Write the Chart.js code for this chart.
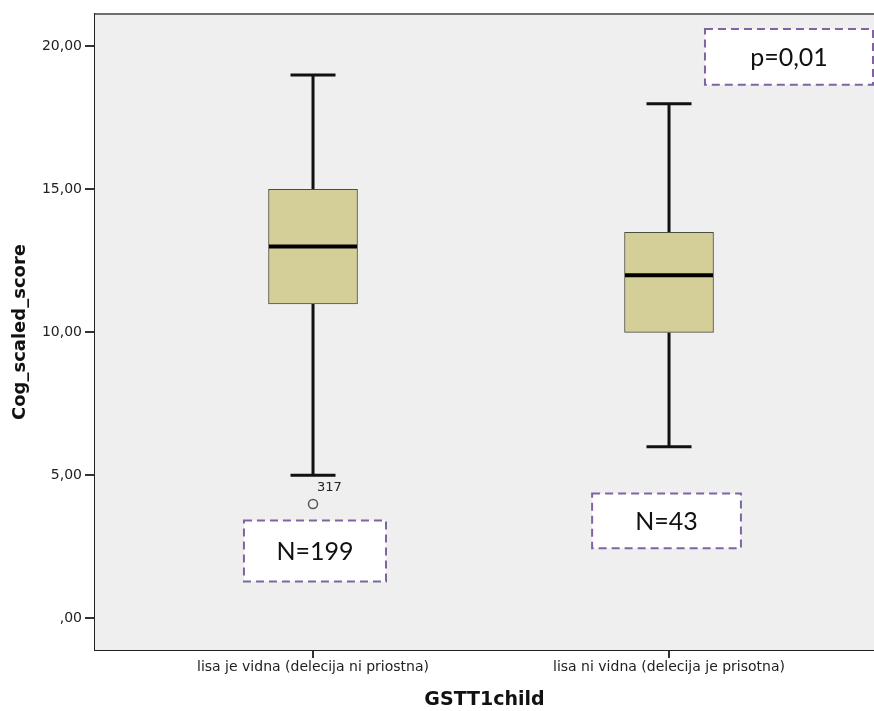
<!DOCTYPE html>
<html>
<head>
<meta charset="utf-8">
<script src="https://cdn.jsdelivr.net/npm/chart.js@4/dist/chart.umd.min.js"></script>
<style>
  html, body { margin: 0; padding: 0; background: #ffffff; }
  #wrap { width: 874px; height: 711px; }
</style>
</head>
<body>
<div id="wrap"><canvas id="c" width="874" height="711"></canvas></div>
<script>
// Groups and their box-plot summaries
const categories = ['lisa je vidna (delecija ni priostna)', 'lisa ni vidna (delecija je prisotna)'];
const whiskerLow = [5, 6];
const q1 = [11, 10];
const median = [13, 12];
const q3 = [15, 13.5];
const whiskerHigh = [19, 18];

// Outlying cases
const outlierGroup = [0];
const outlierValues = [4];
const outlierIds = ['317'];

// Sample sizes and test result
const groupN = [199, 43];
const pValue = '0,01';

// Value axis ticks
const yTicks = [0, 5, 10, 15, 20];

const fmtTick = v => v === 0 ? ',00' : v.toFixed(2).replace('.', ',');

// Plot background and frame
const frame = {
  id: 'frame',
  beforeDatasetsDraw(chart) {
    const { ctx, chartArea: a } = chart;
    ctx.save();
    ctx.fillStyle = '#efefef';
    ctx.fillRect(a.left, a.top, a.right - a.left, a.bottom - a.top);
    ctx.strokeStyle = '#6e6e6e';
    ctx.lineWidth = 2;
    ctx.beginPath();
    ctx.moveTo(a.left, a.top);
    ctx.lineTo(a.right, a.top);
    ctx.stroke();
    ctx.restore();
  }
};

// Whiskers, caps and medians drawn on the chart scales
const whiskers = {
  id: 'whiskers',
  beforeDatasetsDraw(chart) {
    const { ctx, scales: { x, y } } = chart;
    ctx.save();
    ctx.strokeStyle = '#111';
    ctx.lineWidth = 3;
    ctx.lineCap = 'butt';
    categories.forEach((c, i) => {
      const cx = x.getPixelForValue(i + 1);
      const capHalf = 22.5;
      ctx.beginPath();
      ctx.moveTo(cx, y.getPixelForValue(whiskerLow[i]));
      ctx.lineTo(cx, y.getPixelForValue(q1[i]));
      ctx.moveTo(cx, y.getPixelForValue(q3[i]));
      ctx.lineTo(cx, y.getPixelForValue(whiskerHigh[i]));
      ctx.moveTo(cx - capHalf, y.getPixelForValue(whiskerLow[i]));
      ctx.lineTo(cx + capHalf, y.getPixelForValue(whiskerLow[i]));
      ctx.moveTo(cx - capHalf, y.getPixelForValue(whiskerHigh[i]));
      ctx.lineTo(cx + capHalf, y.getPixelForValue(whiskerHigh[i]));
      ctx.stroke();
    });
    ctx.restore();
  },
  afterDatasetsDraw(chart) {
    const { ctx, scales: { x, y } } = chart;
    const boxHalf = 44;
    ctx.save();
    ctx.strokeStyle = '#000';
    ctx.lineWidth = 4;
    categories.forEach((c, i) => {
      const cx = x.getPixelForValue(i + 1);
      const my = y.getPixelForValue(median[i]);
      ctx.beginPath();
      ctx.moveTo(cx - boxHalf, my);
      ctx.lineTo(cx + boxHalf, my);
      ctx.stroke();
    });
    // case labels next to outliers
    ctx.fillStyle = '#222';
    ctx.font = '13px "DejaVu Sans", sans-serif';
    ctx.textAlign = 'left';
    ctx.textBaseline = 'middle';
    outlierValues.forEach((v, k) => {
      const px = x.getPixelForValue(outlierGroup[k] + 1);
      const py = y.getPixelForValue(v);
      ctx.fillText(outlierIds[k], px + 4, py - 16);
    });
    ctx.restore();
  }
};

// Dashed text boxes placed in data space
const notes = [
  { text: 'N=' + groupN[0], x0: 0.806, x1: 1.205, y0: 3.42, y1: 1.29 },
  { text: 'N=' + groupN[1], x0: 1.784, x1: 2.202, y0: 4.37, y1: 2.45 },
  { text: 'p=' + pValue, x0: 2.101, x1: 2.573, y0: 20.61, y1: 18.66 }
];
const noteBoxes = {
  id: 'noteBoxes',
  afterDatasetsDraw(chart) {
    const { ctx, scales: { x, y } } = chart;
    ctx.save();
    notes.forEach(n => {
      const l = x.getPixelForValue(n.x0), r = x.getPixelForValue(n.x1);
      const t = y.getPixelForValue(n.y0), b = y.getPixelForValue(n.y1);
      ctx.fillStyle = '#ffffff';
      ctx.fillRect(l, t, r - l, b - t);
      ctx.setLineDash([8, 5]);
      ctx.strokeStyle = '#8064a2';
      ctx.lineWidth = 2;
      ctx.strokeRect(l, t, r - l, b - t);
      ctx.setLineDash([]);
      ctx.fillStyle = '#111';
      ctx.font = '25px Lato, sans-serif';
      ctx.textAlign = 'center';
      ctx.textBaseline = 'middle';
      ctx.fillText(n.text, (l + r) / 2, (t + b) / 2 + 1);
    });
    ctx.restore();
  }
};

new Chart(document.getElementById('c'), {
  type: 'bar',
  data: {
    datasets: [
      {
        type: 'bar',
        data: categories.map((c, i) => ({ x: i + 1, y: [q1[i], q3[i]] })),
        backgroundColor: '#d4cf99',
        borderColor: '#4d4d40',
        borderWidth: 1,
        borderSkipped: false,
        barThickness: 89,
        order: 2
      },
      {
        type: 'scatter',
        data: outlierValues.map((v, k) => ({ x: outlierGroup[k] + 1, y: v })),
        pointStyle: 'circle',
        radius: 4.5,
        borderColor: '#555',
        backgroundColor: 'rgba(0,0,0,0)',
        borderWidth: 1.5,
        order: 1
      }
    ]
  },
  options: {
    responsive: false,
    animation: false,
    devicePixelRatio: 1,
    layout: { autoPadding: false, padding: { top: 14, right: 0, left: 0, bottom: 0 } },
    plugins: { legend: { display: false }, tooltip: { enabled: false } },
    scales: {
      x: {
        type: 'linear',
        offset: false,
        min: 0.3876,
        max: 2.5758,
        afterBuildTicks: s => { s.ticks = categories.map((c, i) => ({ value: i + 1 })); },
        afterFit: s => { s.height = 61; s.paddingRight = 0; s.paddingLeft = 0; },
        ticks: {
          callback: v => categories[v - 1],
          color: '#222',
          font: { family: '"DejaVu Sans", sans-serif', size: 14 },
          padding: 1,
          maxRotation: 0,
          autoSkip: false
        },
        grid: { display: true, offset: false, drawOnChartArea: false, tickLength: 8, color: '#333', lineWidth: 2 },
        border: { display: true, color: '#222', width: 2 },
        title: {
          display: true,
          text: 'GSTT1child',
          color: '#111',
          font: { family: '"DejaVu Sans", sans-serif', size: 19, weight: 'bold' },
          padding: { top: 0, bottom: 0 }
        }
      },
      y: {
        type: 'linear',
        min: -1.107,
        max: 21.135,
        afterBuildTicks: s => { s.ticks = yTicks.map(v => ({ value: v })); },
        afterFit: s => { s.width = 95; },
        ticks: {
          callback: v => fmtTick(v),
          color: '#222',
          font: { family: '"DejaVu Sans", sans-serif', size: 14 },
          padding: 3
        },
        grid: { display: true, drawOnChartArea: false, tickLength: 10, color: '#333', lineWidth: 2 },
        border: { display: true, color: '#222', width: 2 },
        title: {
          display: true,
          text: 'Cog_scaled_score',
          color: '#111',
          font: { family: '"DejaVu Sans", sans-serif', size: 18, weight: 'bold' },
          padding: { top: 10, bottom: 0 }
        }
      }
    }
  },
  plugins: [frame, whiskers, noteBoxes]
});
</script>
</body>
</html>
